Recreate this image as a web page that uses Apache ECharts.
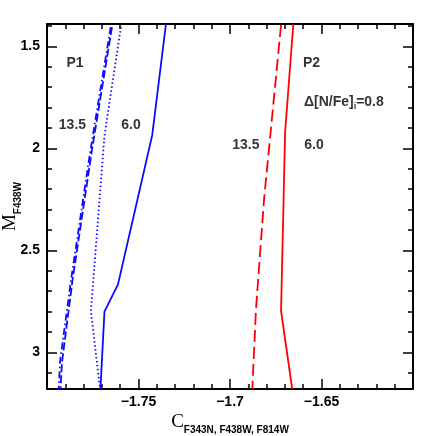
<!DOCTYPE html>
<html>
<head>
<meta charset="utf-8">
<script src="https://cdn.jsdelivr.net/npm/echarts@6/dist/echarts.min.js"></script>
<style>
  html, body { margin: 0; padding: 0; background: #fff; }
  #chart { width: 436px; height: 436px; }
</style>
</head>
<body>
<div id="chart"></div>
<script>
// curves: [C_F343N,F438W,F814W , M_F438W]
const p1Solid = [[-1.735, 1.39], [-1.7425, 1.935], [-1.7612, 2.667], [-1.7686, 2.801], [-1.7708, 3.18]];
const p1Dotted = [[-1.7596, 1.405], [-1.7686, 1.938], [-1.776, 2.799], [-1.771, 3.18]];
const p1Dashed = [[-1.7645, 1.405], [-1.7754, 2.006], [-1.786, 2.642], [-1.7918, 3.049], [-1.7926, 3.18]];
const p1DashDot = [[-1.7652, 1.405], [-1.7762, 2.006], [-1.7868, 2.642], [-1.7928, 3.04], [-1.7936, 3.18]];
const p2Dashed = [[-1.6721, 1.395], [-1.6814, 2.251], [-1.6858, 2.789], [-1.6878, 3.18]];
const p2Solid = [[-1.6654, 1.39], [-1.6699, 1.923], [-1.6721, 2.797], [-1.666, 3.18]];

const yMajorTicks = [1.5, 2, 2.5, 3];
const yMinorTicks = [1.4, 1.5, 1.6, 1.7, 1.8, 1.9, 2, 2.1, 2.2, 2.3, 2.4, 2.5, 2.6, 2.7, 2.8, 2.9, 3, 3.1];

const noteTexts = ['P1', '13.5', '6.0', 'P2', '{t|\u0394[N/Fe]}{s|i}{t|=0.8}', '13.5', '6.0'];
const noteCoords = [[-1.7847, 1.581], [-1.7861, 1.884], [-1.7541, 1.884], [-1.6601, 1.583], [-1.6596, 1.779], [-1.6913, 1.982], [-1.6541, 1.982]];

var myChart = echarts.init(document.getElementById("chart"));

const font = "Liberation Sans";
const black = "#000";

function xAx(pos, labels) {
  return {
    type: "value",
    position: pos,
    min: -1.8,
    max: -1.6,
    interval: 0.05,
    axisLine: { show: true, lineStyle: { color: black, width: 2 } },
    axisTick: { show: true, inside: true, length: 10, lineStyle: { color: black, width: 1.5 } },
    minorTick: { show: true, splitNumber: 5, length: 5, lineStyle: { color: black, width: 1.5 } },
    axisLabel: {
      show: labels,
      showMinLabel: false,
      showMaxLabel: false,
      color: black,
      fontFamily: font,
      fontWeight: "bold",
      fontSize: 14,
      margin: 6,
      formatter: (v) => String(+v.toFixed(3)).replace("-", "\u2212"),
    },
    splitLine: { show: false },
    minorSplitLine: { show: false },
  };
}

function yAx(pos, ticks, len, labels, line) {
  return {
    type: "value",
    position: pos,
    inverse: true,
    min: 1.39,
    max: 3.18,
    axisLine: { show: line, lineStyle: { color: black, width: 2 } },
    axisTick: { show: true, inside: true, length: len, customValues: ticks, lineStyle: { color: black, width: 1.5 } },
    axisLabel: {
      show: labels,
      customValues: yMajorTicks,
      color: black,
      fontFamily: font,
      fontWeight: "bold",
      fontSize: 14,
      margin: 7,
      formatter: (v) => String(+v.toFixed(2)),
    },
    splitLine: { show: false },
  };
}

const titleRich = {
  c: { fontFamily: "Liberation Serif", fontSize: 19, color: black, lineHeight: 22, verticalAlign: "top" },
  s: { fontFamily: font, fontWeight: "bold", fontSize: 10, color: black, lineHeight: 20, verticalAlign: "bottom" },
};

const xBottom = xAx("bottom", true);
xBottom.name = "{c|C}{s|F343N, F438W, F814W}";
xBottom.nameLocation = "middle";
xBottom.nameGap = 24;
xBottom.nameMoveOverlap = false;
xBottom.nameTextStyle = { rich: titleRich };

const yLeft = yAx("left", yMajorTicks, 10, true, true);
yLeft.name = "{c|M}{s|F438W}";
yLeft.nameLocation = "middle";
yLeft.nameRotate = 90;
yLeft.nameGap = 24;
yLeft.nameMoveOverlap = false;
yLeft.nameTextStyle = { rich: titleRich };

function curve(data, color, type) {
  return {
    type: "line",
    data: data,
    showSymbol: false,
    symbol: "none",
    clip: true,
    lineStyle: { color: color, width: 1.8, type: type },
    silent: true,
  };
}

myChart.setOption({
  animation: false,
  backgroundColor: "#fff",
  grid: { left: 47, top: 24, width: 366, height: 365, containLabel: false, outerBoundsMode: "none" },
  xAxis: [xBottom, xAx("top", false)],
  yAxis: [
    yLeft,
    yAx("left", yMinorTicks, 5, false, false),
    yAx("right", yMajorTicks, 10, false, true),
    yAx("right", yMinorTicks, 5, false, false),
  ],
  series: [
    curve(p1Solid, "#0a0aff", "solid"),
    curve(p1Dotted, "#0a0aff", [1.5, 2.5]),
    curve(p1Dashed, "#0a0aff", [8, 3]),
    curve(p1DashDot, "#0a0aff", [7, 3, 1.5, 3]),
    curve(p2Dashed, "#ff0000", [12, 5]),
    curve(p2Solid, "#ff0000", "solid"),
    {
      type: "scatter",
      symbolSize: 0,
      silent: true,
      data: noteTexts.map((t, i) => ({
        value: noteCoords[i],
        label: { align: i === 3 || i === 4 ? "left" : "center" },
        name: t,
      })),
      label: {
        show: true,
        position: "inside",
        verticalAlign: "middle",
        color: black,
        fontFamily: font,
        fontWeight: "bold",
        fontSize: 14,
        formatter: (p) => p.name,
        rich: {
          t: { fontFamily: font, fontWeight: "bold", fontSize: 14, color: black, lineHeight: 16, verticalAlign: "top" },
          s: { fontFamily: font, fontWeight: "bold", fontSize: 9, color: black, lineHeight: 10, verticalAlign: "bottom" },
        },
      },
    },
  ],
});

window.addEventListener("resize", () => {
  myChart.resize();
});
</script>
</body>
</html>
